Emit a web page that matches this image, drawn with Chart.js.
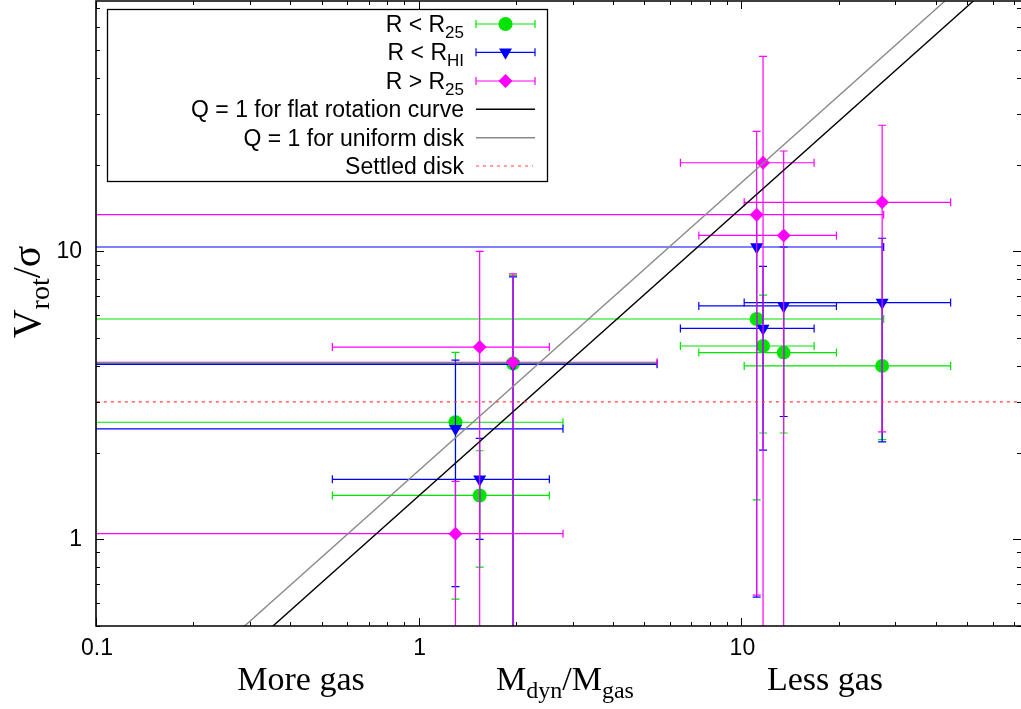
<!DOCTYPE html>
<html>
<head>
<meta charset="utf-8">
<title>Vrot/sigma vs Mdyn/Mgas</title>
<script src="https://cdn.jsdelivr.net/npm/chart.js@4.4.0/dist/chart.umd.min.js"></script>
<style>
  html, body { margin: 0; padding: 0; background: #fff; overflow: hidden; }
</style>
</head>
<body>
<canvas id="grafico" width="1021" height="709"></canvas>
<script>
// galaxies share the same Mdyn/Mgas and its error range in all three series
const massRatio = [1.30, 1.545, 1.96, 11.15, 11.67, 13.52, 27.3];
const massLow   = [0.05, 0.54, 0.05, 0.05, 6.47, 7.38, 10.2];
const massHigh  = [2.80, 2.54, 5.48, 27.6, 16.8, 19.7, 44.5];

// R < R25
const innerV    = [2.55, 1.42, 4.08, 5.82, 4.69, 4.45, 4.00];
const innerLow  = [0.62, 0.80, 0.30, 1.37, 2.34, 2.34, 2.22];
const innerHigh = [4.46, 2.03, 8.25, 10.35, 7.05, 6.46, 6.64];

// R < R_HI
const hiV    = [2.42, 1.615, 4.05, 10.35, 5.40, 6.46, 6.64];
const hiLow  = [0.685, 1.00, 0.30, 0.63, 2.04, 2.67, 2.18];
const hiHigh = [4.19, 2.24, 8.15, 13.4, 8.87, 10.35, 11.1];

// R > R25
const outerV    = [1.046, 4.65, 4.12, 13.4, 20.3, 11.36, 14.8];
const outerLow  = [0.30, 0.30, 0.30, 0.64, 0.30, 0.30, 2.36];
const outerHigh = [1.59, 10.0, 8.35, 26.1, 47.5, 22.3, 27.4];

// model lines
const lineX = [0.05, 100];
const flatFactor = Math.SQRT2;      // Q = 1, flat rotation curve
const uniformFactor = Math.sqrt(3); // Q = 1, uniform disk
const settledV = 3;

const xTickLabels = ['0.1', '1', '10'];
const yTickLabels = ['1', '10'];

const GREEN = '#00e400';
const BLUE = '#0000ff';
const MAGENTA = '#ff00ff';

function points(ys) {
  return massRatio.map((x, i) => ({ x: x, y: ys[i] }));
}

function series(label, ys, lo, hi, color, style, radius, rotation, order) {
  return {
    label: label,
    data: points(ys),
    errs: { xl: massLow, xh: massHigh, yl: lo, yh: hi },
    barColor: color,
    backgroundColor: color,
    borderColor: color,
    borderWidth: 0,
    pointStyle: style,
    pointRadius: radius,
    rotation: rotation,
    order: order
  };
}

function modelLine(label, k, color, dash, order) {
  return {
    label: label,
    data: lineX.map(x => ({ x: x, y: k * x })),
    showLine: true,
    borderColor: color,
    borderWidth: 1.4,
    borderDash: dash,
    pointRadius: 0,
    order: order
  };
}

const errorBars = {
  id: 'errorBars',
  beforeDatasetDraw(chart, args) {
    const ds = chart.data.datasets[args.index];
    if (!ds.errs) return;
    const { ctx, chartArea: a } = chart;
    const x = chart.scales.x, y = chart.scales.y;
    ctx.save();
    ctx.beginPath();
    ctx.rect(a.left, a.top, a.right - a.left, a.bottom - a.top);
    ctx.clip();
    ctx.strokeStyle = ds.barColor;
    ctx.lineWidth = 1.2;
    ds.data.forEach((p, i) => {
      const px = x.getPixelForValue(p.x), py = y.getPixelForValue(p.y);
      const x0 = x.getPixelForValue(ds.errs.xl[i]), x1 = x.getPixelForValue(ds.errs.xh[i]);
      const y0 = y.getPixelForValue(ds.errs.yl[i]), y1 = y.getPixelForValue(ds.errs.yh[i]);
      ctx.beginPath();
      ctx.moveTo(x0, py); ctx.lineTo(x1, py);
      ctx.moveTo(x0, py - 4); ctx.lineTo(x0, py + 4);
      ctx.moveTo(x1, py - 4); ctx.lineTo(x1, py + 4);
      ctx.moveTo(px, y0); ctx.lineTo(px, y1);
      ctx.moveTo(px - 4, y0); ctx.lineTo(px + 4, y0);
      ctx.moveTo(px - 4, y1); ctx.lineTo(px + 4, y1);
      ctx.stroke();
    });
    ctx.restore();
  }
};

// text made of pieces, some of them subscripts
function richWidth(ctx, parts) {
  let w = 0;
  parts.forEach(p => { ctx.font = p.font; w += ctx.measureText(p.t).width; });
  return w;
}
function drawRich(ctx, parts, x, y, align) {
  const w = richWidth(ctx, parts);
  let cx = align === 'right' ? x - w : align === 'center' ? x - w / 2 : x;
  ctx.textAlign = 'left';
  ctx.textBaseline = 'alphabetic';
  parts.forEach(p => {
    ctx.font = p.font;
    ctx.fillText(p.t, cx, y + (p.dy || 0));
    cx += ctx.measureText(p.t).width;
  });
}

const SANS = '23px "Liberation Sans", Arial, sans-serif';
const SUB = '17px "Liberation Sans", Arial, sans-serif';
const SERIF = '34px "Liberation Serif", "Times New Roman", serif';
const SERIF_SUB = '24px "Liberation Serif", "Times New Roman", serif';
const YTITLE = '40px "Liberation Serif", "Times New Roman", serif';
const YTITLE_SUB = '28px "Liberation Serif", "Times New Roman", serif';

function tickValues(min, max) {
  const out = [];
  for (let d = -2; d <= 2; d++) {
    for (let m = 1; m <= 9; m++) {
      const v = m * Math.pow(10, d);
      if (v >= min * 0.999 && v <= max * 1.001) out.push({ v: v, major: m === 1 });
    }
  }
  return out;
}

const frame = {
  id: 'frame',
  afterDraw(chart) {
    const { ctx, chartArea: a } = chart;
    const x = chart.scales.x, y = chart.scales.y;
    ctx.save();
    ctx.strokeStyle = '#000';
    ctx.fillStyle = '#000';

    // inward ticks on all four sides
    ctx.lineWidth = 1;
    ctx.beginPath();
    tickValues(x.min, x.max).forEach(t => {
      const px = Math.round(x.getPixelForValue(t.v)) + 0.5;
      const len = t.major ? 8 : 4;
      ctx.moveTo(px, a.bottom); ctx.lineTo(px, a.bottom - len);
      ctx.moveTo(px, a.top); ctx.lineTo(px, a.top + len);
    });
    tickValues(y.min, y.max).forEach(t => {
      const py = Math.round(y.getPixelForValue(t.v)) + 0.5;
      const len = t.major ? 8 : 4;
      ctx.moveTo(a.left, py); ctx.lineTo(a.left + len, py);
      ctx.moveTo(a.right + 1, py); ctx.lineTo(a.right + 1 - len, py);
    });
    ctx.stroke();

    // border: the right edge falls at the image edge
    ctx.lineWidth = 1.6;
    ctx.beginPath();
    ctx.moveTo(a.right + 2, a.top);
    ctx.lineTo(a.left, a.top);
    ctx.lineTo(a.left, a.bottom);
    ctx.lineTo(a.right + 2, a.bottom);
    ctx.stroke();

    // tick labels
    ctx.font = SANS;
    ctx.textAlign = 'center';
    ctx.textBaseline = 'alphabetic';
    xTickLabels.forEach(s => ctx.fillText(s, x.getPixelForValue(parseFloat(s)) + 1, 655));
    ctx.textAlign = 'right';
    ctx.textBaseline = 'middle';
    yTickLabels.forEach(s => ctx.fillText(s, a.left - 14, y.getPixelForValue(parseFloat(s))));

    // axis titles
    ctx.font = SERIF;
    ctx.textAlign = 'center';
    ctx.textBaseline = 'alphabetic';
    ctx.fillText('More gas', 301, 690);
    ctx.fillText('Less gas', 825, 690);
    drawRich(ctx, [
      { t: 'M', font: SERIF },
      { t: 'dyn', font: SERIF_SUB, dy: 8 },
      { t: '/M', font: SERIF },
      { t: 'gas', font: SERIF_SUB, dy: 8 }
    ], 565, 690, 'center');

    ctx.save();
    ctx.translate(40, 292);
    ctx.rotate(-Math.PI / 2);
    drawRich(ctx, [
      { t: 'V', font: YTITLE },
      { t: 'rot', font: YTITLE_SUB, dy: 9 },
      { t: '/\u03c3', font: YTITLE }
    ], 0, 0, 'center');
    ctx.restore();

    // legend box
    const bx = 107.5, by = 9.5, bw = 440, bh = 172;
    ctx.fillStyle = '#fff';
    ctx.fillRect(bx, by, bw, bh);
    ctx.lineWidth = 1.3;
    ctx.strokeStyle = '#000';
    ctx.strokeRect(bx, by, bw, bh);

    const rows = [24, 52.3, 81, 109.3, 137.7, 166];
    const textR = 464, s0 = 476, s1 = 535, sm = 505.5;
    const labels = [
      [{ t: 'R < R', font: SANS }, { t: '25', font: SUB, dy: 6 }],
      [{ t: 'R < R', font: SANS }, { t: 'HI', font: SUB, dy: 6 }],
      [{ t: 'R > R', font: SANS }, { t: '25', font: SUB, dy: 6 }],
      [{ t: 'Q = 1 for flat rotation curve', font: SANS }],
      [{ t: 'Q = 1 for uniform disk', font: SANS }],
      [{ t: 'Settled disk', font: SANS }]
    ];
    labels.forEach((parts, i) => { ctx.fillStyle = '#000'; drawRich(ctx, parts, textR, rows[i] + 8, 'right'); });

    const ds = chart.data.datasets;
    [0, 1, 2].forEach(i => {
      const d = ds[i], cy = rows[i];
      ctx.strokeStyle = d.barColor;
      ctx.lineWidth = 1.2;
      ctx.beginPath();
      ctx.moveTo(s0, cy); ctx.lineTo(s1, cy);
      ctx.moveTo(s0, cy - 4); ctx.lineTo(s0, cy + 4);
      ctx.moveTo(s1, cy - 4); ctx.lineTo(s1, cy + 4);
      ctx.stroke();
      ctx.fillStyle = d.backgroundColor;
      ctx.strokeStyle = d.backgroundColor;
      Chart.helpers.drawPoint(ctx, { pointStyle: d.pointStyle, radius: d.pointRadius, rotation: d.rotation, borderWidth: 0 }, sm, cy);
    });
    [3, 4, 5].forEach(i => {
      const d = ds[i], cy = rows[i];
      ctx.strokeStyle = d.borderColor;
      ctx.lineWidth = d.borderWidth;
      ctx.setLineDash(d.borderDash || []);
      ctx.beginPath();
      ctx.moveTo(s0, cy); ctx.lineTo(i === 5 ? 533 : s1, cy);
      ctx.stroke();
      ctx.setLineDash([]);
    });
    ctx.restore();
  }
};

const ctx = document.getElementById('grafico').getContext('2d');

new Chart(ctx, {
  type: 'scatter',
  data: {
    datasets: [
      series('R < R25', innerV, innerLow, innerHigh, GREEN, 'circle', 7, 0, 6),
      series('R < RHI', hiV, hiLow, hiHigh, BLUE, 'triangle', 7.5, 180, 5),
      series('R > R25', outerV, outerLow, outerHigh, MAGENTA, 'rectRot', 7, 0, 4),
      modelLine('Q = 1 for flat rotation curve', flatFactor, '#000000', [], 3),
      modelLine('Q = 1 for uniform disk', uniformFactor, '#8a8a8a', [], 2),
      {
        label: 'Settled disk',
        data: lineX.map(x => ({ x: x, y: settledV })),
        showLine: true,
        borderColor: '#ff4040',
        borderWidth: 1.1,
        borderDash: [3, 4],
        pointRadius: 0,
        order: 1
      }
    ]
  },
  options: {
    responsive: false,
    animation: false,
    layout: { autoPadding: false, padding: { left: 96, right: 1, top: 1, bottom: 83 } },
    plugins: {
      legend: { display: false },
      tooltip: { enabled: false }
    },
    scales: {
      x: { type: 'logarithmic', min: 0.1, max: 73, display: false },
      y: { type: 'logarithmic', min: 0.5, max: 74, display: false }
    }
  },
  plugins: [errorBars, frame]
});
</script>
</body>
</html>
